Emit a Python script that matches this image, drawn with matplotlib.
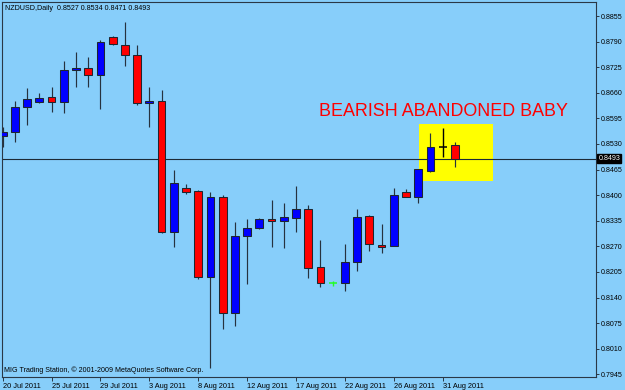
import matplotlib
matplotlib.use("Agg")
import matplotlib.pyplot as plt
from matplotlib.patches import Rectangle
import matplotlib.transforms as mtransforms
import numpy as np

# ---------------- data ----------------
symbol = "NZDUSD,Daily"
opens = [0.85502, 0.85596, 0.86246, 0.86358, 0.86485, 0.86358, 0.87171, 0.87222, 0.87059, 0.88017,
         0.87821, 0.87567, 0.86340, 0.86399, 0.83071, 0.84174, 0.84105, 0.81928, 0.83960, 0.81014,
         0.82962, 0.83173, 0.83401, 0.83351, 0.83427, 0.83648, 0.82182, 0.81760, 0.81760, 0.82302,
         0.83478, 0.82726, 0.82708, 0.84080, 0.83953, 0.84621, 0.85230, 0.85270]
highs = [0.85720, 0.86399, 0.86721, 0.86587, 0.86739, 0.87399, 0.87636, 0.87501, 0.87940, 0.88042,
         0.88398, 0.87813, 0.86754, 0.86663, 0.84638, 0.84283, 0.84130, 0.84087, 0.83996, 0.83310,
         0.83401, 0.83427, 0.83876, 0.83793, 0.84224, 0.83757, 0.82860, 0.81830, 0.82759, 0.83640,
         0.83495, 0.83267, 0.84174, 0.84163, 0.84664, 0.85571, 0.85713, 0.85340]
lows = [0.85223, 0.85342, 0.85789, 0.86333, 0.86119, 0.86079, 0.86739, 0.86754, 0.86180, 0.87813,
        0.87272, 0.86282, 0.85723, 0.83046, 0.82690, 0.84029, 0.81862, 0.79602, 0.80607, 0.80684,
        0.81743, 0.83152, 0.82675, 0.82665, 0.83071, 0.81903, 0.81674, 0.81690, 0.81573, 0.82081,
        0.82581, 0.82538, 0.82708, 0.83953, 0.83808, 0.84595, 0.84976, 0.84710]
closes = [0.85604, 0.86246, 0.86434, 0.86475, 0.86358, 0.87178, 0.87222, 0.87059, 0.87882, 0.87831,
          0.87567, 0.86333, 0.86399, 0.83071, 0.84301, 0.84072, 0.81928, 0.83960, 0.81014, 0.82970,
          0.83173, 0.83394, 0.83351, 0.83445, 0.83640, 0.82141, 0.81760, 0.81760, 0.82309, 0.83452,
          0.82751, 0.82683, 0.84003, 0.83953, 0.84664, 0.85230, 0.85230, 0.84930]
doji_colors = {27: "#22ff22", 36: "#000000"}
tick_bars = [0, 4, 8, 12, 16, 20, 24, 28, 32, 36]
tick_dates = ["20 Jul 2011", "25 Jul 2011", "29 Jul 2011", "3 Aug 2011", "8 Aug 2011",
              "12 Aug 2011", "17 Aug 2011", "22 Aug 2011", "26 Aug 2011", "31 Aug 2011"]
price_ticks = [0.8855, 0.8790, 0.8725, 0.8660, 0.8595, 0.8530, 0.8465, 0.8400, 0.8335,
               0.8270, 0.8205, 0.8140, 0.8075, 0.8010, 0.7945]
pattern_bars = (34.09, 40.15)
pattern_range = (0.84359, 0.85807)
pattern_label = "BEARISH ABANDONED BABY"
copyright_text = "MIG Trading Station, \u00a9 2001-2009 MetaQuotes Software Corp."

# ---------------- style ----------------
BG = "#87CEFA"
W, H = 625, 390
fig = plt.figure(figsize=(W / 100, H / 100), dpi=100, facecolor=BG)
ax = fig.add_axes([2 / W, (H - 377) / H, 594 / W, 375 / H])
ax.set_facecolor(BG)
ax.set_xlim(-0.057, 48.55)
ax.set_ylim(0.79381, 0.88906)

small = dict(family=["Liberation Sans", "DejaVu Sans"], fontsize=5.1, color="black")
edge = "#1e2630"
wick_c = "#26323e"
bw = 0.64

for i, (o, h, l, c) in enumerate(zip(opens, highs, lows, closes)):
    if i in doji_colors:
        col = doji_colors[i]
        ax.vlines(i, l, h, color=col, lw=1.0, zorder=3)
        ax.hlines(o, i - bw / 2, i + bw / 2, color=col, lw=1.1, zorder=3)
        continue
    ax.vlines(i, l, h, color=wick_c, lw=0.85, zorder=3)
    fill = "#0000FF" if c > o else "#FF0000"
    lo, hi = min(o, c), max(o, c)
    ax.add_patch(Rectangle((i - bw / 2, lo), bw, hi - lo, facecolor=fill,
                           edgecolor=edge, lw=0.75, zorder=4))

# pattern highlight
ax.add_patch(Rectangle((pattern_bars[0], pattern_range[0]), pattern_bars[1] - pattern_bars[0],
                       pattern_range[1] - pattern_range[0], facecolor="#FFFF00",
                       edgecolor="none", zorder=1))
ax.text(25.9, 0.8613, pattern_label, color="#FF0000", fontsize=12.9,
        family=["Liberation Sans", "DejaVu Sans"], ha="left", va="center", zorder=5)

# current price line
last = closes[-1]
ax.axhline(last, color="#1c2a36", lw=0.8, zorder=2)
trans = mtransforms.blended_transform_factory(ax.transAxes, ax.transData)
ax.text(1.0 + 2.5 / 594, last, f"{last:.4f}", transform=trans, ha="left", va="center",
        color="white", fontsize=5.1, family=["Liberation Sans", "DejaVu Sans"],
        bbox=dict(boxstyle="square,pad=0.15", facecolor="black", edgecolor="black"),
        clip_on=False, zorder=6)

# axes / ticks
for s in ax.spines.values():
    s.set_color("#2a3846")
    s.set_linewidth(0.8)
ax.yaxis.tick_right()
ax.set_yticks(price_ticks)
ax.set_yticklabels([f"{p:.4f}" for p in price_ticks])
ax.tick_params(axis="y", direction="out", length=2.4, width=0.7, pad=1.2, colors="#2a3846",
               labelcolor="black", labelsize=5.1)
ax.set_xticks(tick_bars)
ax.set_xticklabels(tick_dates)
ax.tick_params(axis="x", direction="out", length=3, width=0.7, pad=1.0, colors="#2a3846",
               labelcolor="black", labelsize=5.3)
for lab in ax.get_xticklabels():
    lab.set_horizontalalignment("left")
    lab.set_family(["Liberation Sans", "DejaVu Sans"])
for lab in ax.get_yticklabels():
    lab.set_family(["Liberation Sans", "DejaVu Sans"])

hdr = f"{symbol}  {opens[-1]:.4f} {highs[-1]:.4f} {lows[-1]:.4f} {closes[-1]:.4f}"
fig.text(5 / W, 1 - 8 / H, hdr, ha="left", va="center", **small)
fig.text(4 / W, 1 - 370 / H, copyright_text, ha="left", va="center", **small)

fig.savefig("out.png", dpi=100, facecolor=BG)
